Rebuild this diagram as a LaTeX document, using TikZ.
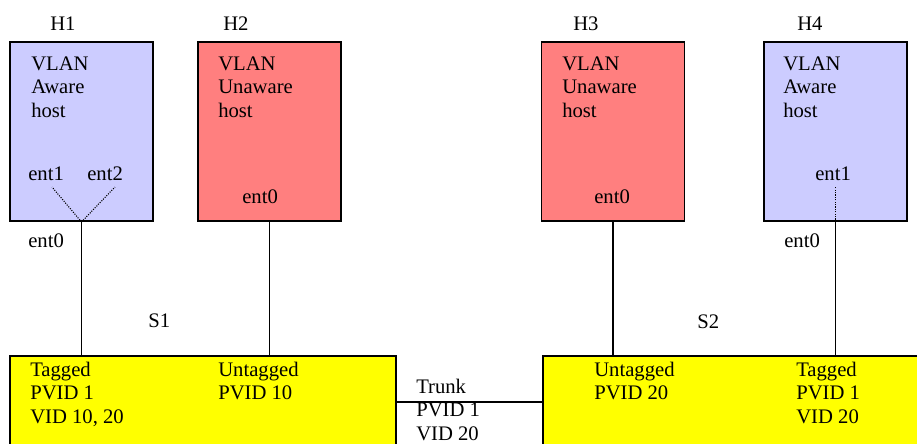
\documentclass[tikz,border=0pt]{standalone}
\usepackage{fontspec}
\setmainfont{Liberation Serif}
\usepackage{tikz}

\definecolor{awarecol}{HTML}{CCCCFF}
\definecolor{unawarecol}{HTML}{FF7F7F}
\definecolor{switchcol}{HTML}{FFFF00}

\tikzset{
  hostbox/.style={draw=black, line width=1.4pt, inner sep=0pt, minimum width=107.25pt, minimum height=134.25pt},
  switchbox/.style={draw=black, fill=switchcol, line width=1.4pt, inner sep=0pt, minimum height=69pt},
  txt/.style={anchor=base west, inner sep=0pt, align=left},
  link/.style={black, line width=1.3pt},
}

\begin{document}
\begin{tikzpicture}[x=0.75pt, y=-0.75pt, font=\fontsize{15.5}{17.6}\selectfont]
        \clip (0,0) rectangle (917,443);
        % hosts
        \node (h1) [hostbox, fill=awarecol] at (81.5,131.5) {};
        \node (h2) [hostbox, fill=unawarecol] at (269.5,131.5) {};
        \node (h3) [hostbox, fill=unawarecol] at (613,131.5) {};
        \node (h4) [hostbox, fill=awarecol] at (835.5,131.5) {};
        \node (h1name) [txt] at (50,30) {H1};
        \node (h2name) [txt] at (223,30) {H2};
        \node (h3name) [txt] at (573,30) {H3};
        \node (h4name) [txt] at (797,30) {H4};
        % base of a multi-line node is its last line
        \node (h1txt) [txt] at (31,117) {VLAN\\Aware\\host};
        \node (h2txt) [txt] at (218,117) {VLAN\\Unaware\\host};
        \node (h3txt) [txt] at (562,117) {VLAN\\Unaware\\host};
        \node (h4txt) [txt] at (783,117) {VLAN\\Aware\\host};
        % interfaces
        \node (h1ent1) [txt] at (28,180) {ent1};
        \node (h1ent2) [txt] at (87,180) {ent2};
        \node (h1ent0) [txt] at (28,247) {ent0};
        \node (h2ent0) [txt] at (242,203) {ent0};
        \node (h3ent0) [txt] at (594,203) {ent0};
        \node (h4ent1) [txt] at (815,180) {ent1};
        \node (h4ent0) [txt] at (784,247) {ent0};
        \coordinate (h1e1) at (52,187);
        \coordinate (h1e2) at (115,187);
        \coordinate (h4e1) at (835.5,187);
        \draw [black, thick, densely dotted] (h1.south) -- (h1e1);
        \draw [black, thick, densely dotted] (h1.south) -- (h1e2);
        \draw [black, thick, densely dotted] (h4.south) -- (h4e1);
        % switches
        \node (s1) [switchbox, minimum width=289.5pt] at (203,402) {};
        \node (s2) [switchbox, minimum width=290.25pt] at (736.5,402) {};
        \node (s1name) [txt] at (148,327) {S1};
        \node (s2name) [txt] at (697,328) {S2};
        \node (s1p1) [txt] at (30,423) {Tagged\\PVID 1\\VID 10, 20};
        \node (s1p2) [txt] at (218,399.5) {Untagged\\PVID 10};
        \node (s2p1) [txt] at (594,399.5) {Untagged\\PVID 20};
        \node (s2p2) [txt] at (796,423) {Tagged\\PVID 1\\VID 20};
        \node (trunk) [txt] at (416,440) {Trunk\\PVID 1\\VID 20};
        % links
        \draw [link] (h1.south) -- (h1.south |- s1.north);
        \draw [link] (h2.south) -- (h2.south |- s1.north);
        \draw [link] (h3.south) -- (h3.south |- s2.north);
        \draw [link] (h4.south) -- (h4.south |- s2.north);
        \draw [link] (s1.east) -- (s2.west);
    \end{tikzpicture}
\end{document}
